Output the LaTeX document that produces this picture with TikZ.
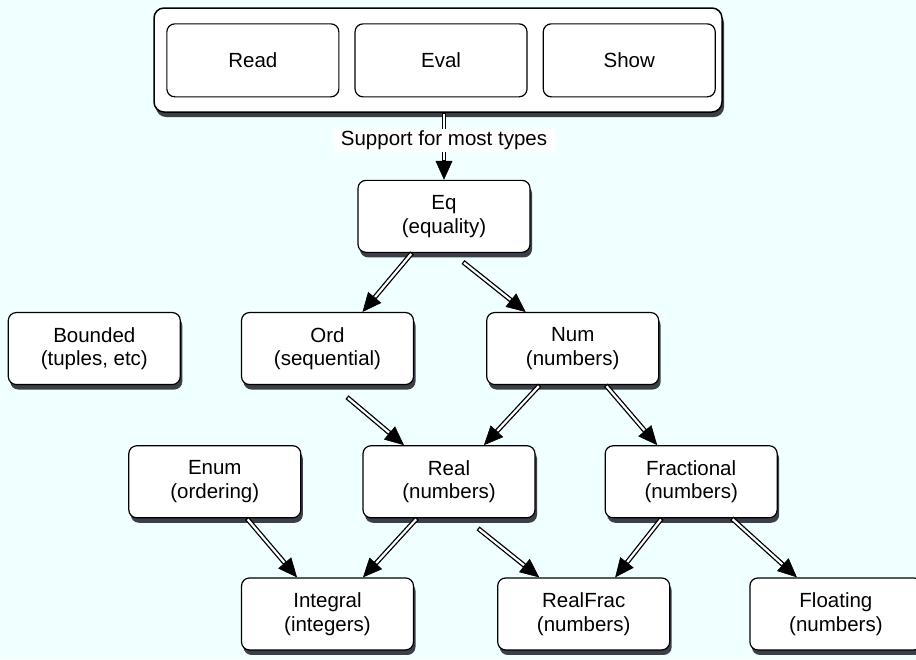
\documentclass[tikz,border=0pt]{standalone}
\usepackage{fontspec}
\setmainfont{Liberation Sans}
\usepackage{xcolor}
\usepackage{tikz}
\usetikzlibrary{positioning,shadows,arrows.meta}
\definecolor{bgcyan}{RGB}{240,255,255}
\definecolor{shadowgray}{RGB}{58,63,72}
\tikzset{
    typeclass/.style = {rectangle, rounded corners=8pt, minimum width=172pt, minimum height=72pt, text centered, align=center, draw=black, line width=1.2pt, fill=white, drop shadow={shadow xshift=2pt, shadow yshift=-5pt, fill=shadowgray, opacity=1}, font=\fontsize{20.5}{23.5}\selectfont},
    cmd/.style = {rectangle, rounded corners=8pt, minimum width=172pt, minimum height=73pt, text centered, draw=black, line width=1.2pt, fill=white, font=\fontsize{20.5}{23.5}\selectfont},
    repl/.style = {rectangle, rounded corners=10pt, minimum width=568pt, minimum height=104pt, draw=black, line width=1.5pt, fill=white, drop shadow={shadow xshift=2pt, shadow yshift=-5pt, fill=shadowgray, opacity=1}},
    arrow/.style = {line width=0.6pt, -{Triangle[length=19pt,width=17pt]}, postaction={draw=black, line width=4.8pt, shorten >=18pt, arrows=-}, postaction={draw=white, line width=2.2pt, shorten >=19.5pt, shorten <=1.3pt, arrows=-}},
    tag/.style = {fill=white, inner xsep=8pt, inner ysep=2pt, font=\fontsize{20.5}{23.5}\selectfont}
}
\begin{document}
\begin{tikzpicture}[node distance=60pt]
\fill [bgcyan] (0,0) rectangle (916pt,-659pt);
\useasboundingbox (0,0) rectangle (916pt,-659pt);

\node (top) [repl] at (438pt,-60pt) {};
\node (read) [cmd, anchor=north west] at ([shift={(13pt,-16pt)}]top.north west) {Read};
\node (eval) [cmd, right=15pt of read] {Eval};
\node (show) [cmd, right=15pt of eval] {Show};

\node (eq) [typeclass, below=67pt of top, xshift=6pt] {Eq\\(equality)};
\node (ord) [typeclass, below=59pt of eq, xshift=-116.5pt] {Ord\\(sequential)};
\node (num) [typeclass, right=72pt of ord] {Num\\(numbers)};
\node (bounded) [typeclass, left=60pt of ord] {Bounded\\(tuples, etc)};
\node (real) [typeclass, below=60pt of ord, xshift=121.5pt] {Real\\(numbers)};
\node (enum) [typeclass, left=61pt of real] {Enum\\(ordering)};
\node (fractional) [typeclass, right=69pt of real] {Fractional\\(numbers)};
\node (integral) [typeclass, below=59pt of real, xshift=-121.5pt] {Integral\\(integers)};
\node (realfrac) [typeclass, right=83pt of integral] {RealFrac\\(numbers)};
\node (floating) [typeclass, right=79pt of realfrac] {Floating\\(numbers)};

\draw [arrow] (top.south -| eq.north) -- node[tag, pos=0.41] {Support for most types} (eq.north);
\draw [arrow] ([xshift=-32pt]eq.south) -- ([xshift=35pt]ord.north);
\draw [arrow] ([xshift=19pt,yshift=-9pt]eq.south) -- ([xshift=-47pt]num.north);
\draw [arrow] ([xshift=19.5pt,yshift=-12pt]ord.south) -- ([xshift=-45pt]real.north);
\draw [arrow] ([xshift=-33pt]num.south) -- ([xshift=35pt]real.north);
\draw [arrow] ([xshift=33pt]num.south) -- ([xshift=-34pt]fractional.north);
\draw [arrow] ([xshift=32pt]enum.south) -- ([xshift=-30.5pt]integral.north);
\draw [arrow] ([xshift=-32pt]real.south) -- ([xshift=35.5pt]integral.north);
\draw [arrow] ([xshift=29pt,yshift=-10pt]real.south) -- ([xshift=-44.5pt]realfrac.north);
\draw [arrow] ([xshift=-29.5pt]fractional.south) -- ([xshift=31.5pt]realfrac.north);
\draw [arrow] ([xshift=40.5pt]fractional.south) -- ([xshift=-39pt]floating.north);
\end{tikzpicture}
\end{document}
